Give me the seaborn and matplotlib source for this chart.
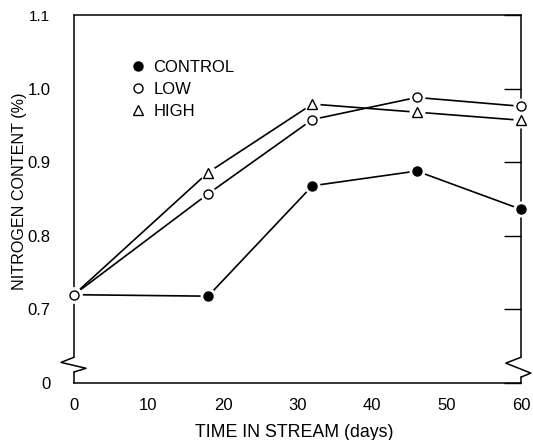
import numpy as np
import pandas as pd
import seaborn as sns
import matplotlib.pyplot as plt
import matplotlib.transforms as mtransforms
from matplotlib.lines import Line2D

# Nitrogen content of leaf litter over time in stream
days = [0, 18, 32, 46, 60]
control = [0.72, 0.718, 0.868, 0.888, 0.836]
low = [0.72, 0.857, 0.958, 0.988, 0.976]
high = [0.72, 0.886, 0.979, 0.968, 0.957]

treatments = ["CONTROL", "LOW", "HIGH"]
x_ticks = [0, 10, 20, 30, 40, 50, 60]
y_ticks = [0.6, 0.7, 0.8, 0.9, 1.0, 1.1]
y_ticklabels = ["0", "0.7", "0.8", "0.9", "1.0", "1.1"]

df = pd.DataFrame({
    "days": days * 3,
    "nitrogen": control + low + high,
    "treatment": [t for t in treatments for _ in days],
})

sns.set_style("white")
plt.rcParams["font.family"] = ["Liberation Sans", "DejaVu Sans"]
plt.rcParams["text.color"] = "black"
plt.rcParams["axes.labelcolor"] = "black"

fig = plt.figure(figsize=(5.33, 4.40), dpi=100)
ax = fig.add_axes([0.1388, 0.1295, 0.9775 - 0.1388, 0.9659 - 0.1295])

black = {t: "black" for t in treatments}
markers = {"CONTROL": "o", "LOW": "o", "HIGH": "^"}
faces = {"CONTROL": "black", "LOW": "white", "HIGH": "white"}

sns.lineplot(data=df, x="days", y="nitrogen", hue="treatment", palette=black,
             linewidth=1.2, legend=False, ax=ax, zorder=2)

# symbols with white halos so the lines stop short of them;
# LOW drawn last so its open circle sits on top at the shared start point
handles = {}
z = 4
for t in ["CONTROL", "HIGH", "LOW"]:
    sub = df[df.treatment == t]
    ax.plot(sub.days, sub.nitrogen, linestyle="none", marker="o",
            markersize=10.5, markerfacecolor="white", markeredgecolor="white",
            zorder=z, clip_on=False)
    handles[t], = ax.plot(sub.days, sub.nitrogen, linestyle="none",
                          marker=markers[t], markersize=6.5,
                          markerfacecolor=faces[t], markeredgecolor="black",
                          markeredgewidth=1.0, zorder=z + 0.5, clip_on=False,
                          label=t)
    z += 1

ax.set_xlim(0, 60)
ax.set_ylim(0.6, 1.1)
ax.set_xticks(x_ticks)
ax.set_yticks(y_ticks)
ax.set_yticklabels(y_ticklabels)
ax.tick_params(axis="both", direction="in", length=12, width=1.0,
               labelsize=12, colors="black")
ax.tick_params(axis="y", right=True, pad=17)
ax.tick_params(axis="x", pad=11)
ax.get_yticklabels()[-1].set_fontsize(11)

for s in ["left", "right", "top", "bottom"]:
    ax.spines[s].set_color("black")
    ax.spines[s].set_linewidth(1.1)
ax.spines["left"].set_visible(False)
ax.spines["right"].set_visible(False)

# side axes with a break between 0 and 0.7
trans = mtransforms.blended_transform_factory(ax.transAxes, ax.transData)
breaks = [
    (0.0, [0.0, -0.029, 0.027, 0.0], [0.635, 0.628, 0.620, 0.615]),
    (1.0, [1.0, 0.966, 1.022, 1.0], [0.635, 0.627, 0.6135, 0.608]),
]
for xa, zx, zy in breaks:
    ax.add_line(Line2D([xa, xa], [1.1, zy[0]], transform=trans, color="black",
                       linewidth=1.1, clip_on=False, zorder=2.5))
    ax.add_line(Line2D(zx, zy, transform=trans, color="black",
                       linewidth=1.1, clip_on=False, zorder=2.5))
    ax.add_line(Line2D([xa, xa], [zy[-1], 0.6], transform=trans, color="black",
                       linewidth=1.1, clip_on=False, zorder=2.5))

ax.set_xlabel("TIME IN STREAM (days)", fontsize=12.8, color="black")
ax.set_ylabel("NITROGEN CONTENT (%)", fontsize=11.6, color="black")
ax.yaxis.set_label_coords(-0.105, 0.522)
ax.xaxis.set_label_coords(0.492, -0.112)

leg = ax.legend(handles=[handles[t] for t in treatments], loc="upper left",
                bbox_to_anchor=(0.114, 0.897), frameon=False,
                fontsize=12, handlelength=0.8, handletextpad=0.5,
                labelspacing=0.42, borderaxespad=0)
for txt in leg.get_texts():
    txt.set_color("black")

fig.savefig("out.png", dpi=100)
